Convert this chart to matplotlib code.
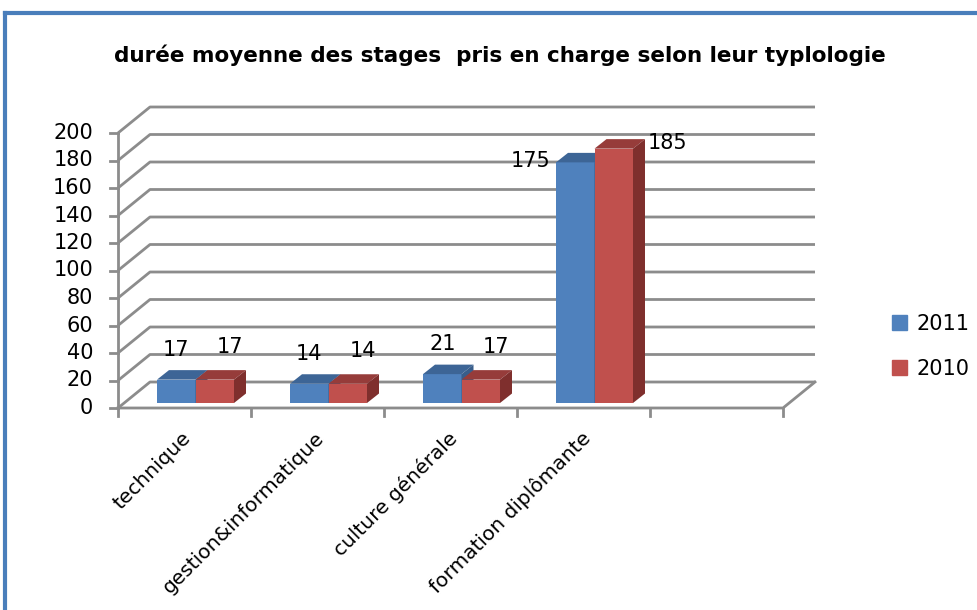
import matplotlib
matplotlib.use("Agg")
import matplotlib.pyplot as plt
from matplotlib.patches import Polygon
from matplotlib.lines import Line2D

categories = ["technique", "gestion&informatique", "culture générale", "formation diplômante", ""]
series_names = ["2011", "2010"]
values_2011 = [17, 14, 21, 175]
values_2010 = [17, 14, 17, 185]
yticks = list(range(0, 201, 20))
title = "durée moyenne des stages  pris en charge selon leur typlologie"

blue, blue_top, blue_side = "#4F81BD", "#3D6596", "#385D8A"
red, red_top, red_side = "#C0504D", "#963C3A", "#7F2F2D"
grid_col = "#8C8C8C"

plt.rcParams["font.family"] = ["DejaVu Sans"]

fig = plt.figure(figsize=(9.77, 6.1), dpi=100)
W, H = 977, 610
ax = fig.add_axes([118 / W, (H - 408) / H, 665 / W, 275 / H])
ncat = len(categories)
ax.set_xlim(0, ncat)
ax.set_ylim(0, 200)
ax.axis("off")

# pixel -> data conversions for the fake 3D depth
px_x = ncat / 665
px_y = 200 / 275
wall_dx, wall_dy = 32 * px_x, 26 * px_y
bar_dx, bar_dy = 12 * px_x, 9.5 * px_y
base = 5 * px_y
bw = 38.5 * px_x
lw = 2

# back wall gridlines + left diagonals
for v in yticks:
    ax.plot([0, wall_dx, ncat + wall_dx], [v, v + wall_dy, v + wall_dy],
            color=grid_col, lw=lw, clip_on=False, zorder=1, solid_capstyle="butt")
    ax.plot([-8 * px_x, 0], [v, v], color=grid_col, lw=lw, clip_on=False, zorder=1)
    ax.text(-25 * px_x, v, str(v), ha="right", va="center", fontsize=15, color="black")

# floor front line, right diagonal, y axis
ax.plot([0, ncat, ncat + wall_dx], [0, 0, wall_dy], color=grid_col, lw=lw, clip_on=False, zorder=2)
ax.plot([0, 0], [0, 200], color=grid_col, lw=lw, clip_on=False, zorder=2)
for i in range(ncat + 1):
    ax.plot([i, i], [0, -8 * px_y], color=grid_col, lw=lw, clip_on=False, zorder=2)

# category labels
for i, lab in enumerate(categories):
    ax.text(i + 0.5 - 3 * px_x, -20 * px_y, lab, rotation=45, ha="right", va="top",
            rotation_mode="anchor", fontsize=14.5)


def bar3d(x0, val, face, top, side, z):
    x1 = x0 + bw
    t = base + val
    ax.bar(x0, val, width=bw, bottom=base, align="edge", color=face, zorder=z, clip_on=False)
    ax.add_patch(Polygon([(x0, t), (x1, t), (x1 + bar_dx, t + bar_dy), (x0 + bar_dx, t + bar_dy)],
                         closed=True, facecolor=top, edgecolor="none", zorder=z, clip_on=False))
    ax.add_patch(Polygon([(x1, base), (x1 + bar_dx, base + bar_dy), (x1 + bar_dx, t + bar_dy), (x1, t)],
                         closed=True, facecolor=side, edgecolor="none", zorder=z, clip_on=False))


for i in range(len(values_2011)):
    xb = i + 39 * px_x
    xr = xb + bw
    bar3d(xb, values_2011[i], blue, blue_top, blue_side, 3 + i * 2)
    bar3d(xr, values_2010[i], red, red_top, red_side, 4 + i * 2)
    vb, vr = values_2011[i], values_2010[i]
    if max(vb, vr) > 100:
        ax.text(xb - 6 * px_x, base + vb + 1, str(vb), ha="right", va="center", fontsize=15, zorder=20)
        ax.text(xr + bw + bar_dx + 3 * px_x, base + vr + 4, str(vr), ha="left", va="center",
                fontsize=15, zorder=20)
    else:
        ax.text(xb + bw / 2, base + vb + 30 * px_y, str(vb), ha="center", va="center", fontsize=15, zorder=20)
        ax.text(xr + bw / 2 + 15 * px_x, base + vr + 33 * px_y, str(vr), ha="center", va="center",
                fontsize=15, zorder=20)

handles = [plt.Rectangle((0, 0), 1, 1, color=blue), plt.Rectangle((0, 0), 1, 1, color=red)]
fig.legend(handles, series_names, loc="center left", bbox_to_anchor=(892 / W, 1 - 346 / H),
           frameon=False, fontsize=15, handlelength=0.7, handleheight=0.7, borderpad=0,
           borderaxespad=0, handletextpad=0.5, labelspacing=1.2)

fig.text(500 / W, 1 - 55 / H, title, ha="center", va="center", fontsize=15.5, fontweight="bold")

# blue frame around the chart area
fig.add_artist(Line2D([5 / W, 5 / W], [0, 1 - 13 / H], color="#4A7EBB", lw=3))
fig.add_artist(Line2D([5 / W, 1], [1 - 13 / H, 1 - 13 / H], color="#4A7EBB", lw=3))

fig.savefig("out.png", dpi=100)
